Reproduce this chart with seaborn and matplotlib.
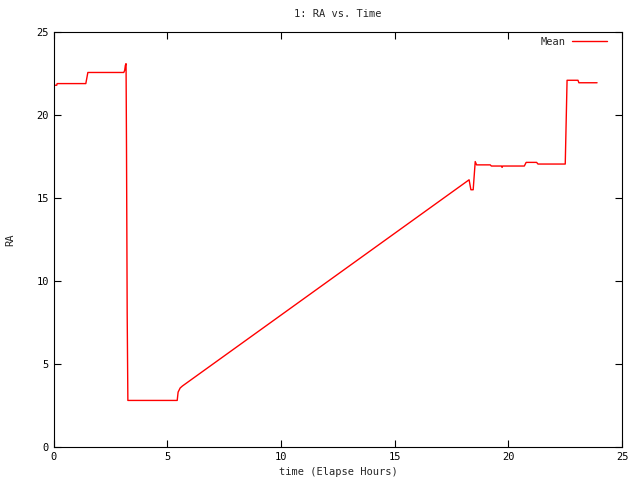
import matplotlib
matplotlib.use("Agg")
import matplotlib.pyplot as plt
import seaborn as sns
import pandas as pd

# elapsed hours and mean RA
time_hours = [0.0, 0.13, 0.15, 1.41, 1.5, 3.08, 3.12, 3.15, 3.18, 3.2, 3.23, 3.26,
              5.43, 5.47, 5.56, 5.66, 18.27, 18.35, 18.45, 18.54, 18.6, 19.2, 19.25,
              19.7, 19.72, 19.75, 20.7, 20.78, 21.24, 21.3, 22.5, 22.58, 23.06, 23.1, 23.9]
ra_mean = [21.8, 21.8, 21.9, 21.9, 22.57, 22.57, 22.7, 23.0, 23.1, 18.0, 8.0, 2.8,
           2.8, 3.3, 3.55, 3.67, 16.1, 15.5, 15.5, 17.2, 17.0, 17.0, 16.93,
           16.93, 16.85, 16.93, 16.93, 17.15, 17.15, 17.05, 17.05, 22.1, 22.1, 21.95, 21.95]

x_ticks = [0, 5, 10, 15, 20, 25]
y_ticks = [0, 5, 10, 15, 20, 25]

df = pd.DataFrame({"time": time_hours, "RA": ra_mean})

sns.set_style("white")
plt.rcParams['font.family'] = ['DejaVu Sans Mono', 'DejaVu Sans']

fig, ax = plt.subplots(figsize=(6.4, 4.8), dpi=100)
fig.subplots_adjust(left=0.084, right=0.972, top=0.933, bottom=0.069)

sns.lineplot(data=df, x="time", y="RA", color="red", linewidth=1, label="Mean", ax=ax)

ax.set_xlim(0, 25)
ax.set_ylim(0, 25)
ax.set_xticks(x_ticks)
ax.set_yticks(y_ticks)
ax.tick_params(direction="in", length=5, width=0.8, labelsize=7.5,
               top=True, right=True, bottom=True, left=True, colors="black")
for s in ax.spines.values():
    s.set_color("black")
    s.set_linewidth(0.8)

ax.set_title("1: RA vs. Time", fontsize=7.5, pad=11)
ax.set_xlabel("time (Elapse Hours)", fontsize=7.5, labelpad=4)
ax.set_ylabel("RA", fontsize=7.5, labelpad=15)

leg = ax.legend(loc="upper right", bbox_to_anchor=(0.986, 1.006), frameon=False,
                fontsize=7.5, handlelength=3.3, handletextpad=0.7,
                markerfirst=False, borderaxespad=0.3)

fig.savefig("out.png", dpi=100)
